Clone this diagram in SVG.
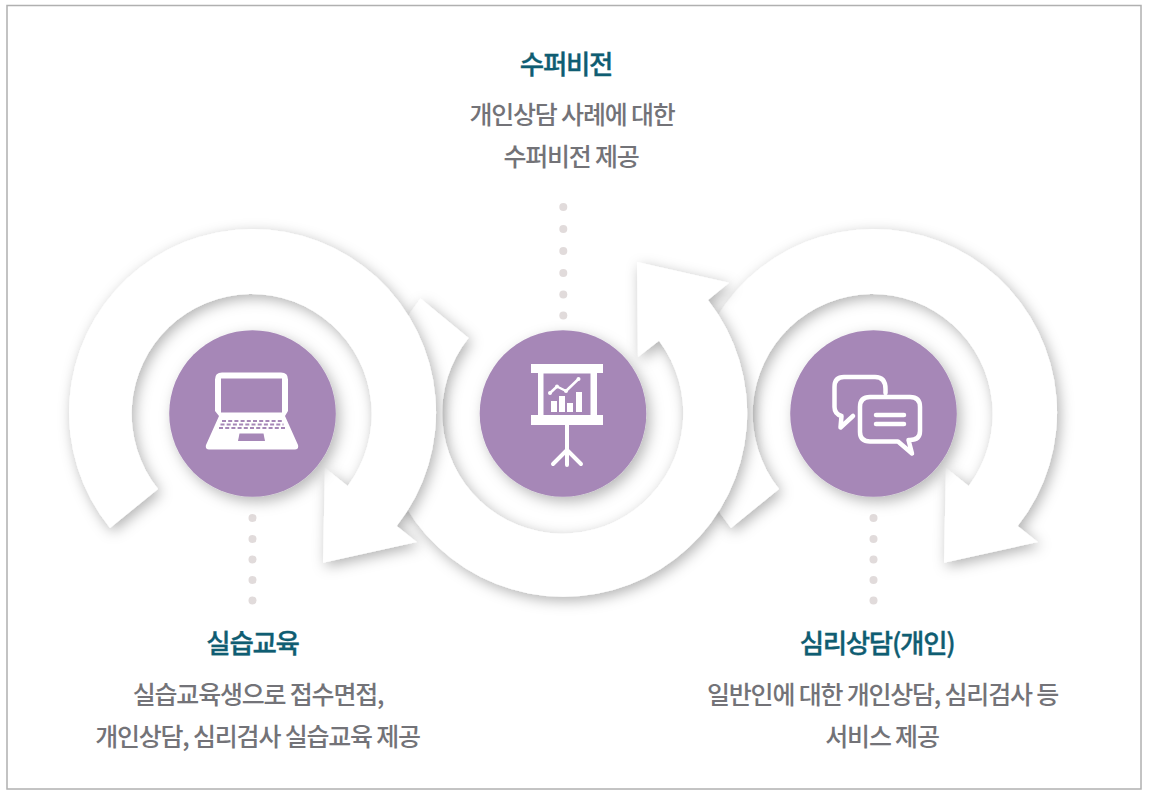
<svg xmlns="http://www.w3.org/2000/svg" width="1150" height="790" viewBox="0 0 1150 790">
<style>
.ring{filter:url(#rs)}
.ring use{fill:#fff}
.disc{fill:#a687b7;filter:url(#cs)}
.dot{fill:#e1dbdb}
.h{font-family:"Noto Sans CJK KR","Noto Sans",sans-serif;font-size:26.5px;font-weight:500;fill:#0f5d72;stroke:#0f5d72;stroke-width:.35px;text-anchor:middle;letter-spacing:-1.3px}
.b{font-family:"Noto Sans CJK KR","Noto Sans",sans-serif;font-size:25px;font-weight:500;fill:#737378;text-anchor:middle;letter-spacing:-1.2px}
.w{fill:#fff}
.ws{fill:none;stroke:#fff;stroke-linecap:round;stroke-linejoin:round}
</style>
<defs>
<filter id="rs" x="-20%" y="-20%" width="140%" height="140%"><feDropShadow dx="3" dy="4" stdDeviation="7" flood-color="#000" flood-opacity=".3"/></filter>
<filter id="cs" x="-20%" y="-20%" width="140%" height="140%"><feDropShadow dx="4" dy="5" stdDeviation="7" flood-color="#000" flood-opacity=".28"/></filter>
<path id="arrow" d="M-142.5 114.5A183.5 183.5 0 1 1 144.2 112.5L164.2 128.5L70.5 149.2L72.5 54.5L95.2 72.5A120 120 0 1 0 -94.5 75.5Z"/>
<path id="arrow-mid" d="M-142.5 115A183.5 183.5 0 1 1 145 113.500L166 130.800L74 151.500L75 56.500L96 72.800A120.500 120.500 0 1 0 -94.500 75.500Z"/>
</defs>
<rect x="0" y="0" width="1150" height="790" fill="#fff"/>
<rect x="7" y="5.500" width="1134" height="783.500" fill="#fff" stroke="#b0b0b0" stroke-width="1.500"/>
<g id="connectors">
<g class="ring"><use href="#arrow" transform="translate(873.5 413.5)"/></g>
<g class="ring"><use href="#arrow-mid" transform="translate(563 413.5) scale(1 -1)"/></g>
<g class="ring"><use href="#arrow" transform="translate(252.500 413.500)"/></g>
<g class="dot">
<circle cx="563.300" cy="207" r="4"/><circle cx="563.300" cy="229" r="4"/><circle cx="563.300" cy="251" r="4"/><circle cx="563.300" cy="273" r="4"/><circle cx="563.300" cy="294.500" r="4"/><circle cx="563.300" cy="315.500" r="4"/>
<circle cx="252.500" cy="518" r="4"/><circle cx="252.500" cy="539" r="4"/><circle cx="252.500" cy="559.500" r="4"/><circle cx="252.500" cy="580" r="4"/><circle cx="252.500" cy="600.500" r="4"/>
<circle cx="873.500" cy="518" r="4"/><circle cx="873.500" cy="539" r="4"/><circle cx="873.500" cy="559.500" r="4"/><circle cx="873.500" cy="580" r="4"/><circle cx="873.500" cy="600.500" r="4"/>
</g>
</g>
<g id="node-training">
<circle class="disc" cx="252.500" cy="413.500" r="83.300"/>
<path class="w" fill-rule="evenodd" d="M222 372.500H281Q288 372.500 288 379.500V411L285 416L298 445Q299 449.500 295 449.500H209Q205 449.500 206 445L219 416L215 411V379.500Q215 372.500 222 372.500ZM221 378.500V412.500H282V378.500Z"/>
<path fill="#a687b7" d="M239.500 433.500H263.500L265 441H238Z"/>
<path stroke="#a687b7" stroke-width="2" stroke-dasharray="4 2.200" fill="none" d="M222 421H282M220.500 424.500H283.500M219 428H285"/>
<text class="h" x="252.500" y="653">실습교육</text>
<text class="b" x="258" y="704">실습교육생으로 접수면접,</text>
<text class="b" x="257.500" y="746">개인상담, 심리검사 실습교육 제공</text>
</g>
<g id="node-supervision">
<circle class="disc" cx="563" cy="413.500" r="83.300"/>
<path class="w" d="M531 364H603V373H597V415H603V425H531V415H538V373H531Z"/>
<path fill="#a687b7" d="M543.500 373.500H590.500V415H543.500Z"/>
<path class="ws" stroke-width="2.500" d="M550 393L557 386.500L566 391L578.500 379"/>
<circle class="w" cx="550" cy="393" r="2"/><circle class="w" cx="557" cy="386.500" r="2"/><circle class="w" cx="566" cy="391" r="2"/><circle class="w" cx="578.500" cy="379" r="2"/>
<path class="w" d="M551 401H557V412H551ZM559 396H565V412H559ZM567 403H573V412H567ZM576 392H582V412H576Z"/>
<path class="ws" stroke-width="4" d="M567 425V465M567 450L553 464M567 450L581 464"/>
<text class="h" x="566" y="74">수퍼비전</text>
<text class="b" x="572" y="124">개인상담 사례에 대한</text>
<text class="b" x="571" y="166">수퍼비전 제공</text>
</g>
<g id="node-counseling">
<circle class="disc" cx="873.500" cy="413.500" r="83.300"/>
<path class="ws" stroke-width="4.500" d="M885.500 393V389Q885.500 377 875 377H844Q834.500 377 834.500 387V407Q834.500 414 841.500 416L840.500 427.500L853 416"/>
<path class="ws" stroke-width="4.500" d="M870 397H910Q920 397 920 407V431Q920 440 910 440H908.500L912 453.500L898 441.500H870Q860 441.500 860 432V407Q860 397 870 397Z"/>
<path class="ws" stroke-width="4.500" d="M876 415H904M876 424H904"/>
<text class="h" x="877" y="653">심리상담(개인)</text>
<text class="b" x="882.500" y="704">일반인에 대한 개인상담, 심리검사 등</text>
<text class="b" x="882" y="746">서비스 제공</text>
</g>
</svg>
